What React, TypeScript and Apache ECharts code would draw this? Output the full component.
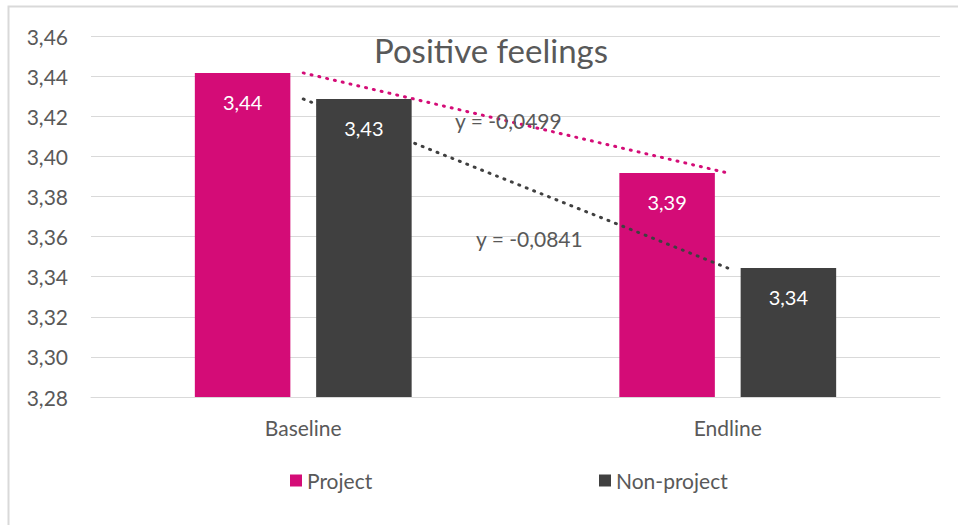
import React, { useEffect, useRef } from "react";
import * as echarts from "echarts";

const categories = ["Baseline", "Endline"];
const projectValues = [3.4416, 3.3917];
const nonProjectValues = [3.4286, 3.3443];
const seriesNames = ["Project", "Non-project"];
const trendLabels = ["y = -0,0499", "y = -0,0841"];
const titleText = "Positive feelings";

const PINK = "#D40C77";
const DARK = "#404040";
const TEXT = "#595959";
const GRID = "#D9D9D9";
const FONT = "Lato, 'Open Sans', sans-serif";

const fmt = (v: number) => v.toFixed(2).replace(".", ",");

export default function App() {
  const ref = useRef<HTMLDivElement>(null);
  useEffect(() => {
    document.body.style.margin = "0";
    const chart = echarts.init(ref.current!, null, { renderer: "svg" });
    chart.setOption({
      animation: false,
      backgroundColor: "#fff",
      textStyle: { fontFamily: FONT },
      title: {
        text: titleText,
        left: 491,
        top: 33,
        padding: 0,
        textAlign: "center",
        textStyle: { color: TEXT, fontSize: 33, fontWeight: "normal", fontFamily: FONT },
      },
      legend: [
        {
          data: [seriesNames[0]],
          left: 290,
          top: 470,
          padding: 0,
          itemWidth: 12,
          itemHeight: 12,
          icon: "rect",
          textStyle: { color: TEXT, fontSize: 21, fontFamily: FONT },
        },
        {
          data: [seriesNames[1]],
          left: 599,
          top: 470,
          padding: 0,
          itemWidth: 12,
          itemHeight: 12,
          icon: "rect",
          textStyle: { color: TEXT, fontSize: 21, fontFamily: FONT },
        },
      ],
      grid: { left: 91, right: 18, top: 36, bottom: 128, containLabel: false },
      xAxis: {
        type: "category",
        data: categories,
        axisLine: { lineStyle: { color: GRID, width: 1 } },
        axisTick: { show: false },
        axisLabel: { color: TEXT, fontSize: 21, margin: 20, fontFamily: FONT },
      },
      yAxis: {
        type: "value",
        min: 3.28,
        max: 3.46,
        interval: 0.02,
        axisLine: { show: false },
        axisTick: { show: false },
        splitLine: { lineStyle: { color: GRID, width: 1 } },
        axisLabel: {
          color: TEXT,
          fontSize: 21,
          margin: 23,
          fontFamily: FONT,
          formatter: (v: number) => fmt(v),
        },
      },
      series: [
        {
          name: seriesNames[0],
          type: "bar",
          data: projectValues,
          barWidth: "22.5%",
          barGap: "27%",
          itemStyle: { color: PINK },
          z: 1,
          label: {
            show: true,
            position: "insideTop",
            distance: 19,
            color: "#fff",
            fontSize: 20,
            fontFamily: FONT,
            formatter: (p: any) => fmt(p.value),
          },
        },
        {
          name: seriesNames[1],
          type: "bar",
          data: nonProjectValues,
          barWidth: "22.5%",
          barGap: "27%",
          itemStyle: { color: DARK },
          z: 3,
          label: {
            show: true,
            position: "insideTop",
            distance: 19,
            color: "#fff",
            fontSize: 20,
            fontFamily: FONT,
            formatter: (p: any) => fmt(p.value),
          },
        },
        {
          name: "Project trend",
          type: "line",
          data: projectValues,
          symbol: "none",
          z: 4,
          lineStyle: { color: PINK, width: 3, type: [1, 7], cap: "round" },
        },
        {
          name: "Non-project trend",
          type: "line",
          data: nonProjectValues,
          symbol: "none",
          z: 2,
          lineStyle: { color: DARK, width: 3, type: [1, 7], cap: "round" },
        },
      ],
      graphic: [
        {
          type: "rect",
          shape: { x: 8.5, y: 6.5, width: 1000, height: 1000 },
          style: { fill: "none", stroke: GRID, lineWidth: 2 },
          silent: true,
        },
        {
          type: "text",
          left: 455,
          top: 110,
          style: { text: trendLabels[0], fill: TEXT, font: `21px ${FONT}` },
          z: 10,
        },
        {
          type: "text",
          left: 476,
          top: 228,
          style: { text: trendLabels[1], fill: TEXT, font: `21px ${FONT}` },
          z: 10,
        },
      ],
    });
    return () => chart.dispose();
  }, []);
  return <div ref={ref} style={{ width: 958, height: 525 }} />;
}
